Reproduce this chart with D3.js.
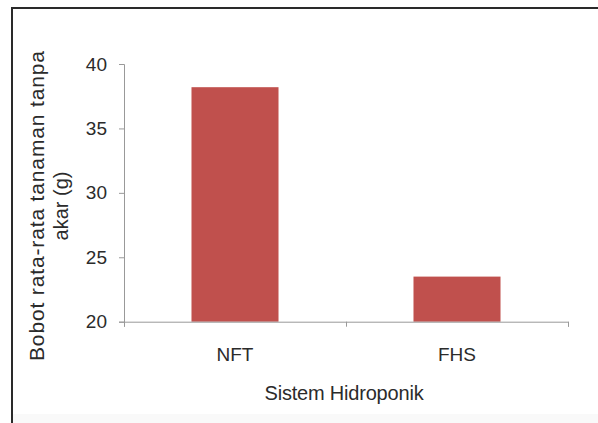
<!DOCTYPE html>
<html>
<head>
<meta charset="utf-8">
<script src="https://cdn.jsdelivr.net/npm/d3@7"></script>
<style>
  html, body { margin: 0; padding: 0; background: #fff; }
  svg { display: block; }
  text { font-family: "Liberation Sans", Arial, sans-serif; fill: #2b2b2b; }
</style>
</head>
<body>
<svg id="chart" width="598" height="423"></svg>
<script>
const categories = ["NFT", "FHS"];
const values = [38.2, 23.5];
const yTicks = [20, 25, 30, 35, 40];
const xTitle = "Sistem Hidroponik";
const yTitleLines = ["Bobot rata-rata tanaman tanpa", "akar (g)"];

const svg = d3.select("#chart");
const W = 598, H = 423;
const plotLeft = 124, plotRight = 568, plotTop = 64, plotBottom = 321.7;

// background & frame
svg.append("rect").attr("x", 0).attr("y", 0).attr("width", W).attr("height", H).attr("fill", "#fff");
svg.append("rect").attr("x", 12).attr("y", 414).attr("width", W - 12).attr("height", H - 414).attr("fill", "#f9f9f9");
svg.append("line").attr("x1", 11).attr("x2", W).attr("y1", 8).attr("y2", 8)
  .attr("stroke", "#2a2a2a").attr("stroke-width", 2);
svg.append("line").attr("x1", 12).attr("x2", 12).attr("y1", 7).attr("y2", H)
  .attr("stroke", "#2a2a2a").attr("stroke-width", 2);

const x = d3.scaleBand().domain(categories).range([plotLeft, plotRight])
  .paddingInner(0.608).paddingOuter(0.304);
const xEdges = d3.scaleLinear().domain([0, categories.length]).range([plotLeft, plotRight]);
const y = d3.scaleLinear().domain([20, 40]).range([plotBottom, plotTop]);

// bars
svg.append("g").selectAll("rect").data(values).join("rect")
  .attr("x", (d, i) => x(categories[i]))
  .attr("width", x.bandwidth())
  .attr("y", d => y(d))
  .attr("height", d => y(20) - y(d))
  .attr("fill", "#c0504d");

// y axis
const yAxis = svg.append("g").attr("transform", `translate(${plotLeft},0)`)
  .call(d3.axisLeft(y).tickValues(yTicks).tickSize(5).tickPadding(12).tickFormat(d3.format("d")));
yAxis.select(".domain").attr("stroke", "#999");
yAxis.selectAll(".tick line").attr("stroke", "#999");
yAxis.selectAll(".tick text").attr("font-size", 19).attr("fill", "#2b2b2b")
  .style("font-family", "'Liberation Sans', Arial, sans-serif");

// x axis (tick marks at category boundaries)
const xAxis = svg.append("g").attr("transform", `translate(0,${plotBottom})`)
  .call(d3.axisBottom(xEdges).tickValues(d3.range(categories.length + 1)).tickSize(5).tickFormat(""));
xAxis.select(".domain").attr("stroke", "#999");
xAxis.selectAll(".tick line").attr("stroke", "#999");

// category labels
const xLab = svg.append("g").attr("transform", `translate(0,${plotBottom})`)
  .call(d3.axisBottom(x).tickSize(0).tickPadding(26));
xLab.select(".domain").remove();
xLab.selectAll(".tick text").attr("font-size", 19).attr("fill", "#2b2b2b")
  .style("font-family", "'Liberation Sans', Arial, sans-serif");

// x title
svg.append("text").attr("x", 344).attr("y", 400).attr("text-anchor", "middle")
  .attr("font-size", 20).attr("letter-spacing", "-0.2").text(xTitle);

// y title (two lines, rotated)
const yt = svg.append("g").attr("transform", "translate(0,206) rotate(-90)");
yt.append("text").attr("x", 0).attr("y", 44).attr("text-anchor", "middle")
  .attr("font-size", 21).attr("textLength", 310).attr("lengthAdjust", "spacing")
  .text(yTitleLines[0]);
yt.append("text").attr("x", 0).attr("y", 68).attr("text-anchor", "middle")
  .attr("font-size", 20).text(yTitleLines[1]);
</script>
</body>
</html>
